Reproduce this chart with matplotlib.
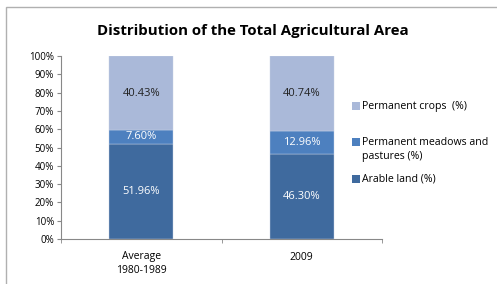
import numpy as np
import matplotlib.pyplot as plt
from matplotlib.patches import Rectangle

categories = ['Average\n1980-1989', '2009']
arable = [51.96, 46.30]
meadows = [7.60, 12.96]
crops = [40.43, 40.74]

series_names = ['Arable land (%)', 'Permanent meadows and\npastures (%)', 'Permanent crops  (%)']
colors = ['#3F6A9E', '#4D80BF', '#AAB9D9']
text_colors = ['white', 'white', '#222222']

plt.rcParams['font.family'] = ['Open Sans', 'DejaVu Sans']

fig = plt.figure(figsize=(4.97, 2.84), dpi=100)
ax = fig.add_axes([61/497, 1 - 239/284, 321/497, 183/284])

# chart border
fig.patches.append(Rectangle((6/497, -0.1), 1.2, (284 - 7)/284 + 0.1,
                             transform=fig.transFigure, fill=False,
                             edgecolor='#B0B0B0', linewidth=1.0))

x = np.arange(len(categories))
bottom = np.zeros(len(categories))
for vals, name, c, tc in zip([arable, meadows, crops], series_names, colors, text_colors):
    vals = np.array(vals)
    ax.bar(x, vals, 0.4, bottom=bottom, color=c, label=name,
           edgecolor='#C8D2E6', linewidth=0.3)
    for xi, b, v in zip(x, bottom, vals):
        ax.text(xi, b + v / 2, '{:.2f}%'.format(v), ha='center', va='center',
                color=tc, fontsize=8)
    bottom += vals

ax.set_xlim(-0.5, 1.5)
ax.set_ylim(0, 100)
ax.set_yticks(np.arange(0, 101, 10))
ax.set_yticklabels(['{}%'.format(v) for v in range(0, 101, 10)], fontsize=7)
ax.set_xticks(x)
ax.set_xticklabels(categories, fontsize=7.5, linespacing=1.3)
ax.set_xticks([-0.5, 0.5, 1.5], minor=True)
ax.tick_params(axis='x', which='major', length=0, pad=9)
ax.tick_params(axis='x', which='minor', length=3, color='#888888', direction='out')
ax.tick_params(axis='y', length=3, color='#888888', pad=2)
for s in ['top', 'right']:
    ax.spines[s].set_visible(False)
for s in ['left', 'bottom']:
    ax.spines[s].set_color('#888888')
    ax.spines[s].set_linewidth(0.8)

fig.text(253/497, 1 - 31/284, 'Distribution of the Total Agricultural Area',
         ha='center', va='center', fontsize=10.8, fontweight='bold')

# legend drawn by hand to keep the original spacing
legend_y = [106, 142, 179]
for name, c, yy in zip(series_names[::-1], colors[::-1], legend_y):
    fig.patches.append(Rectangle((352/497, 1 - (yy + 4)/284), 8/497, 8/284,
                                 transform=fig.transFigure, facecolor=c,
                                 edgecolor='none'))
    fig.text(362/497, 1 - (yy - 5.5)/284, name, ha='left', va='top',
             fontsize=7.6, linespacing=1.45)

fig.savefig('out.png', dpi=100)
